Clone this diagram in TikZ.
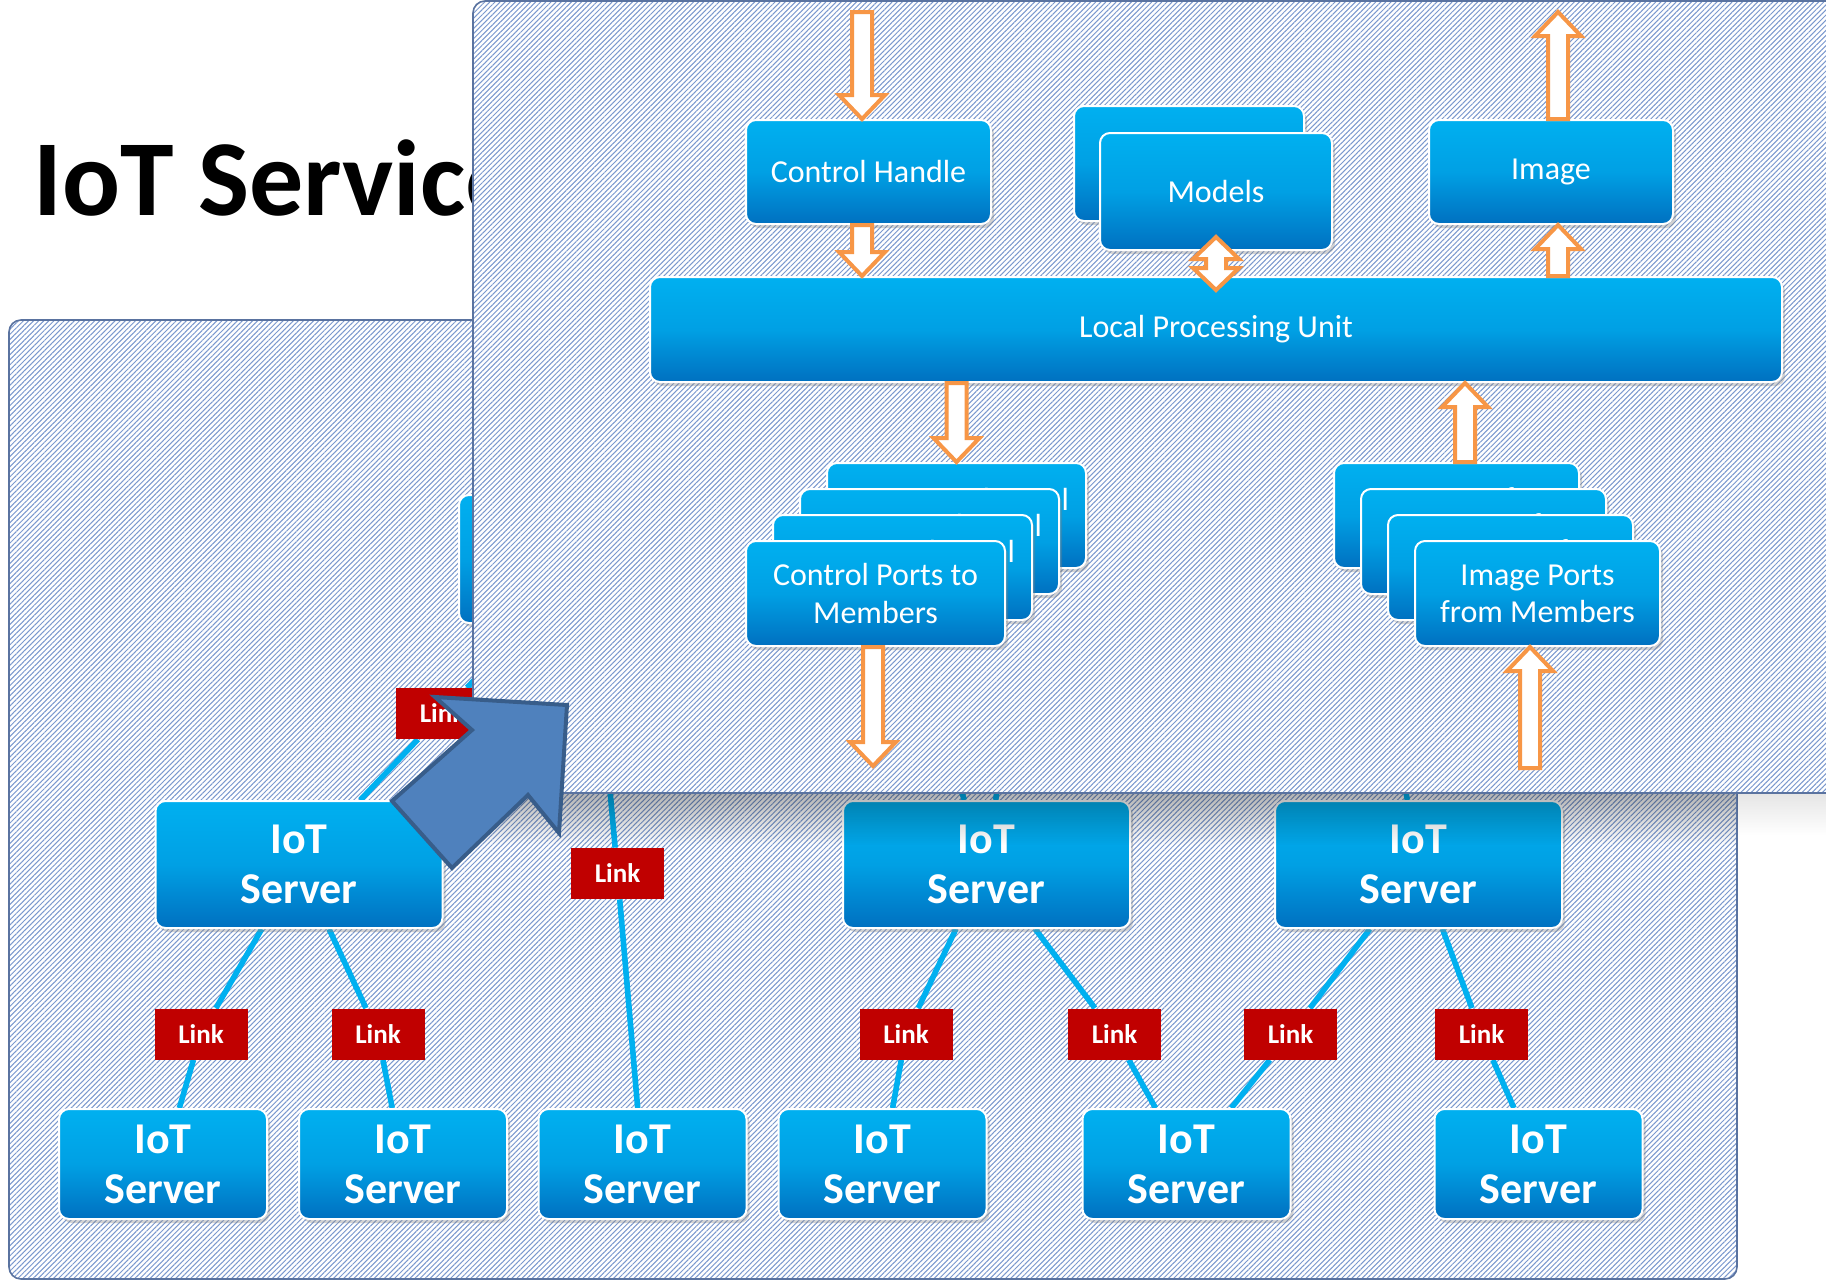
\documentclass[tikz,border=0pt]{standalone}
\usepackage{fontspec}
\setmainfont{Carlito}
\usetikzlibrary{calc,shadows,patterns.meta,fadings}
\pgfdeclarelayer{bg}
\pgfdeclarelayer{lines}
\pgfdeclarelayer{front}
\pgfdeclarelayer{top}
\pgfsetlayers{bg,lines,main,front,top}

\definecolor{boxtop}{RGB}{0,176,240}
\definecolor{boxmid}{RGB}{0,160,228}
\definecolor{boxbot}{RGB}{0,112,192}
\definecolor{linkred}{RGB}{192,0,0}
\definecolor{netcyan}{RGB}{0,176,240}
\definecolor{arrorange}{RGB}{247,150,70}
\definecolor{bigfill}{RGB}{79,129,189}
\definecolor{bigline}{RGB}{56,93,138}
\definecolor{panelline}{RGB}{90,115,160}
\definecolor{stripe}{RGB}{122,152,206}

\tikzset{
  box/.style={rounded corners=5pt, draw=white, line width=1pt,
    top color=boxtop, bottom color=boxbot, middle color=boxmid,
    text=white, align=center, inner sep=2pt,
    font=\fontsize{16}{18.6}\selectfont,
    drop shadow={opacity=0.35, shadow xshift=1.5pt, shadow yshift=-2pt}},
  server/.style={box, font=\fontsize{22}{25}\selectfont\bfseries,
    minimum width=143.5pt, minimum height=63.5pt},
  bserver/.style={server, minimum width=104pt, minimum height=55pt},
  link/.style={fill=linkred, text=white, font=\fontsize{13.5}{15}\selectfont\bfseries,
    minimum width=46.5pt, minimum height=25.5pt, inner sep=1pt},
  net/.style={draw=netcyan, line width=2.8pt},
  harrow/.style={draw=arrorange, fill=white, line width=2pt, line join=miter},
  panelfill/.style={pattern={Lines[angle=45,distance=1.8pt,line width=0.5pt]}, pattern color=stripe},
  panelborder/.style={draw=panelline, line width=0.8pt},
  bigarrow/.style={fill=bigfill, draw=bigline, line width=2pt, line join=miter},
  titletext/.style={anchor=base west, inner sep=0pt, font=\fontsize{54}{60}\selectfont\bfseries}
}

% hollow single block arrow: #1 tail point, #2 point giving the tip height
\newcommand\blockarrow[2]{%
  \path[harrow] let \p1=#1, \p2=#2, \n1={\y2-12*sign((\y2)-(\y1))} in
    (\x1-5pt,\y1) -- (\x1-5pt,\n1*1pt) -- (\x1-11.5pt,\n1*1pt) -- (\x1,\y2)
    -- (\x1+11.5pt,\n1*1pt) -- (\x1+5pt,\n1*1pt) -- (\x1+5pt,\y1) -- cycle;}
% hollow double block arrow between two tips (vertical)
\newcommand\dblarrow[2]{%
  \path[harrow] let \p1=#1, \p2=#2, \n1={\y1-11*sign((\y1)-(\y2))},
      \n2={\y2-11*sign((\y2)-(\y1))} in
    (\x1,\y1) -- (\x1+11.5pt,\n1*1pt) -- (\x1+5pt,\n1*1pt) -- (\x1+5pt,\n2*1pt)
    -- (\x1+11.5pt,\n2*1pt) -- (\x1,\y2) -- (\x1-11.5pt,\n2*1pt) -- (\x1-5pt,\n2*1pt)
    -- (\x1-5pt,\n1*1pt) -- (\x1-11.5pt,\n1*1pt) -- cycle;}

\begin{document}
\begin{tikzpicture}[x=0.5pt,y=-0.5pt]
\useasboundingbox (0,0) rectangle (1826,1281);

% ---------- background, title, back panel ----------
\begin{pgfonlayer}{bg}
  \fill[white] (0,0) rectangle (1826,1281);
  \node[titletext] (title) at (33,215) {IoT Service};
  \fill[white, rounded corners=6pt] (9,320) rectangle (1737,1279);
  \fill[panelfill, rounded corners=6pt] (9,320) rectangle (1737,1279);
  \draw[panelborder, rounded corners=6pt] (9,320) rectangle (1737,1279);
\end{pgfonlayer}

% ---------- back panel nodes ----------
\node[box, minimum width=130pt, minimum height=64pt] (hid) at (589,559) {};

\node[server] (A) at (299,864.5) {IoT\\Server};
\node[server] (B) at (986.5,864.5) {IoT\\Server};
\node[server] (C) at (1418.5,864.5) {IoT\\Server};

\node[bserver] (D) at (163,1164) {IoT\\Server};
\node[bserver] (E) at (403,1164) {IoT\\Server};
\node[bserver] (F) at (642.5,1164) {IoT\\Server};
\node[bserver] (G) at (882.5,1164) {IoT\\Server};
\node[bserver] (H) at (1186.5,1164) {IoT\\Server};
\node[bserver] (I) at (1538.5,1164) {IoT\\Server};

\node[link] (L1) at (201,1034) {Link};
\node[link] (L2) at (378,1034) {Link};
\node[link] (L3) at (906,1034) {Link};
\node[link] (L4) at (1114.5,1034) {Link};
\node[link] (L5) at (1290.5,1034) {Link};
\node[link] (L6) at (1481.5,1034) {Link};
\node[link] (L7) at (617.5,873.5) {Link};
\node[link] (L8) at (442.5,713.5) {Link};

\coordinate (b1) at (930,700);
\coordinate (b2) at (1010,700);
\coordinate (c1) at (1390,700);

\begin{pgfonlayer}{lines}
  \draw[net] (A) -- (L1) -- (D);
  \draw[net] (A) -- (L2) -- (E);
  \draw[net] (A) -- (L8) -- (hid);
  \draw[net] (hid) -- (L7) -- (F);
  \draw[net] (B) -- (L3) -- (G);
  \draw[net] (B) -- (L4) -- (H);
  \draw[net] (C) -- (L5) -- (H);
  \draw[net] (C) -- (L6) -- (I);
  \draw[net] (B) -- (b1);
  \draw[net] (B) -- (b2);
  \draw[net] (C) -- (c1);
\end{pgfonlayer}

% ---------- front panel ----------
\begin{pgfonlayer}{front}
  \fill[black, opacity=0.3, path fading=south] (480,793) rectangle (1737,845);
  \fill[black, opacity=0.1, path fading=south] (1737,793) rectangle (1826,835);
  \fill[white, rounded corners=6pt] (473,1) rectangle (1840,793);
  \fill[panelfill, rounded corners=6pt] (473,1) rectangle (1840,793);
  \draw[panelborder, rounded corners=6pt] (473,1) rectangle (1840,793);

  \node[box, minimum width=122.5pt, minimum height=52pt] (ch) at (868.5,172) {Control Handle};
  \node[box, minimum width=115pt, minimum height=57.5pt] (mb) at (1189,163.5) {};
  \node[box, minimum width=116pt, minimum height=58.5pt] (mf) at (1216,191.5) {Models};
  \node[box, minimum width=122pt, minimum height=52pt] (img) at (1551,172) {Image};
  \node[box, minimum width=566pt, minimum height=52.5pt] (lpu) at (1216,329.5) {Local Processing Unit};

  \node[box, minimum width=129.5pt, minimum height=52.5pt] (cp4) at (956.5,515.5) {Group of Physical\\[-2pt]\phantom{M}};
  \node[box, minimum width=129.5pt, minimum height=52.5pt] (cp3) at (929.5,541.5) {Group of Physical\\[-2pt]\phantom{M}};
  \node[box, minimum width=129.5pt, minimum height=52.5pt] (cp2) at (902.5,567.5) {Group of Physical\\[-2pt]\phantom{M}};
  \node[box, minimum width=129.5pt, minimum height=52.5pt] (cp1) at (875.5,593.5) {Control Ports to\\Members};

  \node[box, minimum width=122.5pt, minimum height=52.5pt] (ip4) at (1456.5,515.5) {Group of\\[-2pt]\phantom{M}};
  \node[box, minimum width=122.5pt, minimum height=52.5pt] (ip3) at (1483.5,541.5) {Group of\\[-2pt]\phantom{M}};
  \node[box, minimum width=122.5pt, minimum height=52.5pt] (ip2) at (1510.5,567.5) {Group of\\[-2pt]\phantom{M}};
  \node[box, minimum width=122.5pt, minimum height=52.5pt] (ip1) at (1537.5,593.5) {Image Ports\\from Members};

  \coordinate (inarr) at (862,12);
  \coordinate (outarr) at (1558,12);
  \coordinate (cpout) at (873,766);
  \coordinate (ipin) at (1530,768);

  \blockarrow{(inarr)}{(ch.north)}
  \blockarrow{($(ch.south)+(-6.5,0)$)}{(lpu.north)}
  \dblarrow{($(mf.south)+(0,-14)$)}{($(lpu.north)+(0,14)$)}
  \blockarrow{($(lpu.north)+(342,0)$)}{(img.south)}
  \blockarrow{($(img.north)+(7,0)$)}{(outarr)}
  \blockarrow{(lpu.south -| cp4.north)}{(cp4.north)}
  \blockarrow{($(ip4.north)+(8.5,0)$)}{(lpu.south)}
  \blockarrow{($(cp1.south)+(-2.5,0)$)}{(cpout)}
  \blockarrow{(ipin)}{(ip1.south)}
\end{pgfonlayer}

% ---------- big block arrow ----------
\begin{pgfonlayer}{top}
  \draw[bigarrow] (392,801) -- (472,730) -- (435,697) -- (567,705) -- (559,833)
    -- (528,795) -- (452,868) -- cycle;
\end{pgfonlayer}
\end{tikzpicture}
\end{document}
